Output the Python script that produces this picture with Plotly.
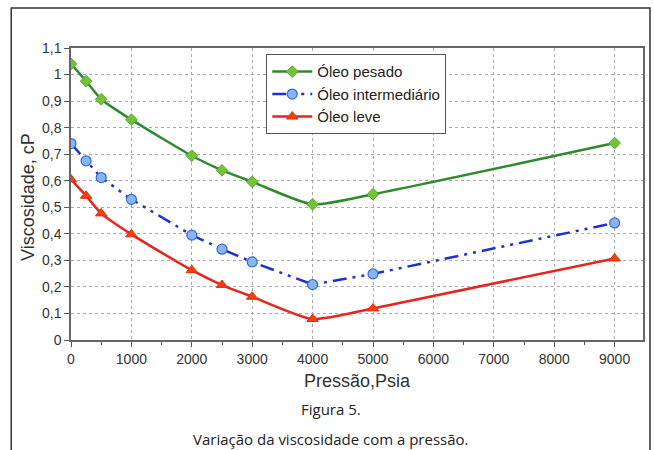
import plotly.graph_objects as go

pressure = [0, 250, 500, 1000, 2000, 2500, 3000, 4000, 5000, 9000]
oleo_pesado = [1.04, 0.975, 0.907, 0.83, 0.694, 0.639, 0.596, 0.511, 0.549, 0.742]
oleo_intermediario = [0.74, 0.675, 0.612, 0.53, 0.395, 0.342, 0.294, 0.209, 0.249, 0.441]
oleo_leve = [0.605, 0.543, 0.477, 0.398, 0.263, 0.207, 0.163, 0.079, 0.119, 0.307]
x_ticks = [0, 1000, 2000, 3000, 4000, 5000, 6000, 7000, 8000, 9000]
y_ticks = [0, 0.1, 0.2, 0.3, 0.4, 0.5, 0.6, 0.7, 0.8, 0.9, 1.0, 1.1]
y_labels = ["0", "0,1", "0,2", "0,3", "0,4", "0,5", "0,6", "0,7", "0,8", "0,9", "1", "1,1"]

SANS = "Liberation Sans"
fig = go.Figure()
fig.add_trace(go.Scatter(
    x=pressure, y=oleo_pesado, name="Óleo pesado", mode="lines+markers",
    line=dict(color="#2f8a2f", width=2.5, shape="spline", smoothing=0.6),
    marker=dict(symbol="diamond", size=9, color="#72c23a", line=dict(color="#5aa82a", width=1))))
fig.add_trace(go.Scatter(
    x=pressure, y=oleo_intermediario, name="Óleo intermediário", mode="lines+markers",
    line=dict(color="#1f2fd0", width=2.5, dash="14px,6px,3px,6px,3px,6px"),
    marker=dict(symbol="circle", size=10, color="#86b6f2", line=dict(color="#3a66d8", width=1.2))))
fig.add_trace(go.Scatter(
    x=pressure, y=oleo_leve, name="Óleo leve", mode="lines+markers",
    line=dict(color="#e8241e", width=2.5, shape="spline", smoothing=0.6),
    marker=dict(symbol="triangle-up", size=10, color="#f2400e", line=dict(color="#e03010", width=1))))

axis_font = dict(family=SANS, size=14, color="#333333")
fig.update_layout(
    width=654, height=450,
    margin=dict(l=71, r=9, t=48, b=110),
    paper_bgcolor="white", plot_bgcolor="white",
    showlegend=True,
    legend=dict(x=0.341, y=0.979, xanchor="left", yanchor="top",
                bgcolor="white", bordercolor="#555555", borderwidth=1.2,
                font=dict(family=SANS, size=15, color="#222222"),
                itemwidth=40, tracegroupgap=2),
    xaxis=dict(range=[0, 9470], tickvals=x_ticks, ticks="outside", ticklen=5,
               tickcolor="#555555", showline=True, linecolor="#666666", linewidth=1.5,
               mirror=True, showgrid=True, gridcolor="#aaaaaa", griddash="dot", gridwidth=1,
               minor=dict(dtick=500, ticks="outside", ticklen=3, tickcolor="#555555", showgrid=False),
               tickfont=axis_font, zeroline=False),
    yaxis=dict(range=[0, 1.1], tickvals=y_ticks, ticktext=y_labels, ticks="outside", ticklen=5,
               tickcolor="#555555", showline=True, linecolor="#666666", linewidth=1.5,
               mirror=True, showgrid=True, gridcolor="#aaaaaa", griddash="dot", gridwidth=1,
               tickfont=axis_font, zeroline=False),
    shapes=[dict(type="rect", xref="paper", yref="paper", x0=-0.1045, x1=1.0122,
                 y0=-0.6, y1=1.137, line=dict(color="#333333", width=1.5), layer="below")],
    annotations=[
        dict(text="Viscosidade, cP", xref="paper", yref="paper", x=-0.075, y=0.49,
             textangle=-90, showarrow=False, xanchor="center", yanchor="middle",
             font=dict(family=SANS, size=18, color="#333333")),
        dict(text="Pressão,Psia", xref="paper", yref="paper", x=0.5, y=-0.14,
             showarrow=False, xanchor="center", yanchor="middle",
             font=dict(family=SANS, size=18, color="#333333")),
        dict(text="Figura 5.", xref="paper", yref="paper", x=0.455, y=-0.236,
             showarrow=False, xanchor="center", yanchor="middle",
             font=dict(family="Open Sans", size=15, color="#222222")),
        dict(text="Variação da viscosidade com a pressão.", xref="paper", yref="paper", x=0.455, y=-0.34,
             showarrow=False, xanchor="center", yanchor="middle",
             font=dict(family="Open Sans", size=15, color="#222222")),
    ],
)
fig.write_html("out.html")
